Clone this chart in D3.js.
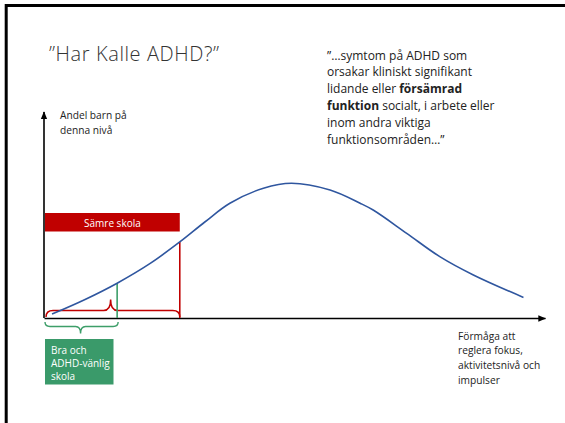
<!DOCTYPE html>
<html><head><meta charset="utf-8">
<script src="https://cdn.jsdelivr.net/npm/d3@7"></script>
<style>html,body{margin:0;padding:0;background:#fff;}svg{display:block;}text{font-variant-ligatures:none;}</style>
</head><body>
<script>
// ---- data ----
const abilityX = [1.6, 8.2, 14.6, 21.2, 27.1, 32.1, 37.1, 43.8, 49.4, 57.1, 63.1, 65.7, 72.4, 79.0, 85.7, 95.7];
const shareY   = [1.9, 9.0, 16.9, 26.5, 36.9, 46.6, 55.7, 63.0, 65.4, 62.1, 55.7, 52.4, 41.1, 29.8, 20.9, 10.0];
const thresholdNames = ["Bra och ADHD-vänlig skola", "Sämre skola"];
const thresholdX = [14.6, 27.1];
const thresholdY = [16.9, 36.9];
const titleText = "”Har Kalle ADHD?”";
const quoteLines = [
  [["”…symtom på ADHD som", false]],
  [["orsakar kliniskt signifikant", false]],
  [["lidande eller ", false], ["försämrad", true]],
  [["funktion", true], [" socialt, i arbete eller", false]],
  [["inom andra viktiga", false]],
  [["funktionsområden…”", false]]
];
const yLabel = ["Andel barn på", "denna nivå"];
const xLabel = ["Förmåga att", "reglera fokus,", "aktivitetsnivå och", "impulser"];
const greenLabel = ["Bra och", "ADHD-vänlig", "skola"];
const redLabel = "Sämre skola";

const W = 565, H = 423;
const FONT = "'Open Sans', sans-serif";
const svg = d3.select("body").append("svg").attr("width", W).attr("height", H);

// border
svg.append("path").attr("d", `M6.2,${H+5}V5.5H${W+5}`).attr("fill","none").attr("stroke","#000").attr("stroke-width",3);

const x = d3.scaleLinear().domain([0,100]).range([44,545]);
const y = d3.scaleLinear().domain([0,100]).range([318,112]);

// arrow marker
const defs = svg.append("defs");
defs.append("marker").attr("id","arr").attr("viewBox","0 0 10 10").attr("refX",9).attr("refY",5)
  .attr("markerWidth",5).attr("markerHeight",5).attr("orient","auto")
  .append("path").attr("d","M0,1L10,5L0,9z").attr("fill","#000");

// axes (no ticks)
const gx = svg.append("g").attr("transform",`translate(0,${y(0)})`)
  .call(d3.axisBottom(x).tickValues([]).tickSizeOuter(0));
gx.select(".domain").attr("stroke","#000").attr("stroke-width",1.6).attr("marker-end","url(#arr)");
const gy = svg.append("g").attr("transform",`translate(${x(0)},0)`)
  .call(d3.axisLeft(y).tickValues([]).tickSizeOuter(0));
gy.select(".domain").attr("stroke","#000").attr("stroke-width",1.6)
  .attr("d", `M0,${y(0)}V${y(100)}`).attr("marker-end","url(#arr)");

// braces
function brace(x1, x2, xm, yEnd, yMid, yTip, r) {
  return `M${x1},${yEnd} Q${x1},${yMid} ${x1+r},${yMid} L${xm-r},${yMid} Q${xm},${yMid} ${xm},${yTip}` +
         ` Q${xm},${yMid} ${xm+r},${yMid} L${x2-r},${yMid} Q${x2},${yMid} ${x2},${yEnd}`;
}
svg.append("path").attr("d", brace(x(0.4), x(thresholdX[1]), x(13.3), 317, 310.5, 299.5, 7))
  .attr("fill","none").attr("stroke","#c00000").attr("stroke-width",1.5);
svg.append("path").attr("d", brace(x(0.2), x(thresholdX[0])+1, x(7.3), 322, 326.5, 333.5, 5))
  .attr("fill","none").attr("stroke","#3d9e69").attr("stroke-width",1.4);

// threshold lines
const thrColors = ["#3d9e69", "#c00000"];
svg.selectAll("line.thr").data(thresholdX).join("line").attr("class","thr")
  .attr("x1", d=>x(d)).attr("x2", d=>x(d)).attr("y1", y(0)).attr("y2", (d,i)=>y(thresholdY[i]))
  .attr("stroke",(d,i)=>thrColors[i]).attr("stroke-width",1.6);

// curve
const pts = abilityX.map((v,i)=>[v, shareY[i]]);
svg.append("path").datum(pts)
  .attr("d", d3.line().x(d=>x(d[0])).y(d=>y(d[1])).curve(d3.curveCatmullRom.alpha(0.5)))
  .attr("fill","none").attr("stroke","#2f569f").attr("stroke-width",1.6);

// red box
svg.append("rect").attr("x", x(0.2)).attr("y",213).attr("width", x(thresholdX[1]) - x(0.2)).attr("height",18.5)
  .attr("fill","#c00000");
svg.append("text").attr("x",(x(0.2)+x(thresholdX[1]))/2).attr("y",226.5).attr("text-anchor","middle")
  .attr("font-family",FONT).attr("font-size",10).attr("fill","#fff").text(redLabel);

// green box
svg.append("rect").attr("x",45).attr("y",339).attr("width",68.5).attr("height",45.5).attr("fill","#3a9a6a");
svg.append("g").selectAll("text").data(greenLabel).join("text")
  .attr("x",51).attr("y",(d,i)=>354+i*12.8).attr("font-family",FONT).attr("font-size",10).attr("fill","#fff").text(d=>d);

// title
svg.append("text").attr("x",49).attr("y",60.5).attr("font-family",FONT).attr("font-weight",300)
  .attr("font-size",20).attr("letter-spacing",0.6).attr("fill","#333").text(titleText);

// quote
const q = svg.append("text").attr("font-family",FONT).attr("font-size",12).attr("fill","#222");
quoteLines.forEach((line,i)=>{
  line.forEach((seg,j)=>{
    const t = q.append("tspan").attr("font-weight", seg[1] ? 700 : 400).text(seg[0]);
    if (j===0) t.attr("x",327).attr("y",59.5+i*16.9);
  });
});

// axis labels
svg.append("g").selectAll("text").data(yLabel).join("text")
  .attr("x",60).attr("y",(d,i)=>119+i*15).attr("font-family",FONT).attr("font-size",10.2).attr("fill","#222").text(d=>d);
svg.append("g").selectAll("text").data(xLabel).join("text")
  .attr("x",458).attr("y",(d,i)=>339.5+i*14.7).attr("font-family",FONT).attr("font-size",10.2).attr("fill","#222").text(d=>d);
</script>
</body></html>
